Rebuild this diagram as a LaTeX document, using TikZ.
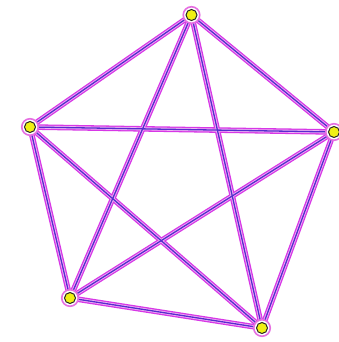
\documentclass[tikz,border=0pt]{standalone}
\definecolor{edgeouterc}{RGB}{215,55,230}
\definecolor{edgemidc}{RGB}{240,175,245}
\definecolor{edgecorec}{RGB}{85,45,205}
\definecolor{haloc}{RGB}{230,110,225}
\definecolor{vtxc}{RGB}{240,240,20}
\begin{document}
\begin{tikzpicture}[x=1pt,y=-1pt,
  vtx/.style={circle,fill=vtxc,draw=black!85,line width=1pt,minimum size=11pt,inner sep=0pt},
  halo/.style={circle,draw=haloc,line width=1.6pt,minimum size=16.5pt,inner sep=0pt,fill=white},
  edgeouter/.style={draw=edgeouterc,line width=5.6pt},
  edgemid/.style={draw=edgemidc,line width=3pt},
  edgecore/.style={draw=edgecorec,line width=1.3pt}]
\useasboundingbox (0,0) rectangle (339,342);
\clip (0,0) rectangle (339,342);
\fill[white] (0,0) rectangle (339,342);
\coordinate (A) at (191.5,15);
\coordinate (B) at (30,127);
\coordinate (C) at (334,132);
\coordinate (D) at (70,298);
\coordinate (E) at (262,328);
\foreach \u/\v in {A/B,A/C,A/D,A/E,B/C,B/D,B/E,C/D,C/E,D/E}{
  \draw[edgeouter] (\u) -- (\v);
}
\foreach \u/\v in {A/B,A/C,A/D,A/E,B/C,B/D,B/E,C/D,C/E,D/E}{
  \draw[edgemid] (\u) -- (\v);
}
\foreach \u/\v in {A/B,A/C,A/D,A/E,B/C,B/D,B/E,C/D,C/E,D/E}{
  \draw[edgecore] (\u) -- (\v);
}
\foreach \p in {A,B,C,D,E}{
  \node[halo] (h\p) at (\p) {};
  \node[vtx] (n\p) at (\p) {};
}
\end{tikzpicture}
\end{document}
